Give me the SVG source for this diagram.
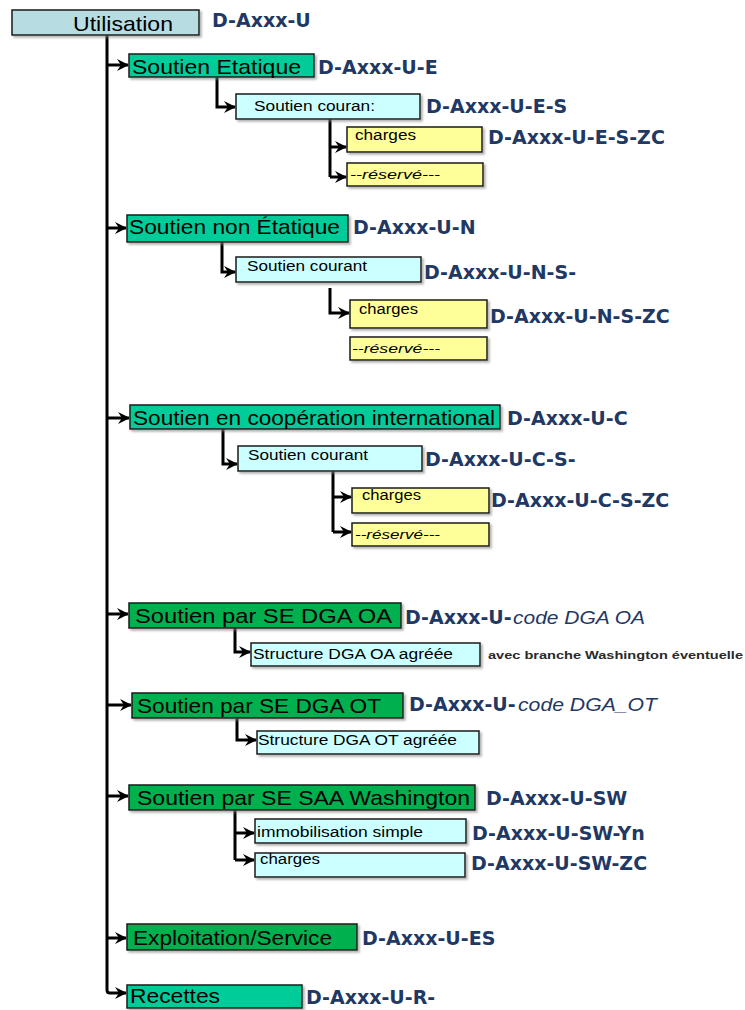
<svg xmlns="http://www.w3.org/2000/svg" width="745" height="1010" viewBox="0 0 745 1010">
<style>
.bx{stroke:#1a1a1a;stroke-width:1.5;filter:url(#sh)}
.teal{fill:#00cc99}
.grn{fill:#00b050}
.cyan{fill:#ccffff}
.yel{fill:#ffff99}
.util{fill:#b7dde3}
.t{font-family:"Liberation Sans",Arial,sans-serif;fill:#000}
.big{font-size:21px}
.sm{font-size:14px}
.it{font-size:12px;font-style:italic}
.lb{font-family:"DejaVu Sans",Verdana,sans-serif;font-weight:bold;font-size:19px;fill:#1f3864}
.lbi{font-family:"Liberation Sans",Arial,sans-serif;font-weight:normal;font-style:italic;font-size:18px;fill:#1f3864}
.note{font-family:"Liberation Sans",Arial,sans-serif;font-weight:bold;font-size:11.5px;fill:#2a2a2a}
.ln{fill:none;stroke:#000;stroke-width:3}
.ar{fill:none;stroke:#000;stroke-width:3;marker-end:url(#ah)}
</style>
<defs>
<filter id="sh" x="-5%" y="-20%" width="110%" height="150%">
<feDropShadow dx="2" dy="2" stdDeviation="0.8" flood-color="#808080" flood-opacity="0.6"/>
</filter>
<marker id="ah" markerUnits="userSpaceOnUse" markerWidth="14" markerHeight="14" refX="11" refY="6" orient="auto">
<path d="M0,0 L12,6 L0,12 L4,6 z" fill="#000"/>
</marker>
</defs>
<rect width="745" height="1010" fill="#fff"/>

<g id="connectors">
<path class="ln" d="M107,35 V990 Q107,993 110,993"/>
<path class="ar" d="M107,65 H128"/>
<path class="ar" d="M107,228 H126"/>
<path class="ar" d="M107,418 H129"/>
<path class="ar" d="M107,614 H128"/>
<path class="ar" d="M107,705 H131"/>
<path class="ar" d="M107,796 H128"/>
<path class="ar" d="M107,938 H126"/>
<path class="ar" d="M110,993 H126"/>

<path class="ar" d="M217,77 V107 H235"/>
<path class="ln" d="M330,119 V177"/>
<path class="ar" d="M330,147 H346"/>
<path class="ar" d="M330,177 H346"/>

<path class="ar" d="M222,242 V272 H235"/>
<path class="ar" d="M330,288 V313 H349"/>

<path class="ar" d="M223,429 V464 H237"/>
<path class="ln" d="M333,471 V532"/>
<path class="ar" d="M333,497 H351"/>
<path class="ar" d="M333,532 H351"/>

<path class="ar" d="M235,628 V652 H250"/>
<path class="ar" d="M237,718 V740 H256"/>

<path class="ln" d="M235,810 V860"/>
<path class="ar" d="M235,833 H254"/>
<path class="ar" d="M235,860 H254"/>
</g>

<g id="n-utilisation">
<rect class="bx util" x="12" y="10" width="187" height="25"/>
<text class="t big" x="73" y="31" textLength="100" lengthAdjust="spacingAndGlyphs">Utilisation</text>
<text class="lb" x="212" y="27">D-Axxx-U</text>
</g>

<g id="n-etatique">
<rect class="bx teal" x="129" y="54" width="185" height="23"/>
<text class="t big" x="132" y="74" textLength="169" lengthAdjust="spacingAndGlyphs">Soutien Etatique</text>
<text class="lb" x="318" y="74">D-Axxx-U-E</text>
</g>
<g id="n-e-courant">
<rect class="bx cyan" x="236" y="94" width="184" height="25"/>
<text class="t sm" x="254" y="111" textLength="121" lengthAdjust="spacingAndGlyphs">Soutien couran:</text>
<text class="lb" x="426" y="113">D-Axxx-U-E-S</text>
</g>
<g id="n-e-charges">
<rect class="bx yel" x="347" y="127" width="135" height="25"/>
<text class="t sm" x="355" y="140" textLength="61" lengthAdjust="spacingAndGlyphs">charges</text>
<text class="lb" x="488" y="144">D-Axxx-U-E-S-ZC</text>
</g>
<g id="n-e-reserve">
<rect class="bx yel" x="347" y="163" width="136" height="23"/>
<text class="t it" x="350" y="179" textLength="90" lengthAdjust="spacingAndGlyphs">--réservé---</text>
</g>

<g id="n-non-etatique">
<rect class="bx teal" x="127" y="215" width="221" height="27"/>
<text class="t big" x="129" y="234" textLength="211" lengthAdjust="spacingAndGlyphs">Soutien non Étatique</text>
<text class="lb" x="353" y="234">D-Axxx-U-N</text>
</g>
<g id="n-n-courant">
<rect class="bx cyan" x="236" y="257" width="185" height="25"/>
<text class="t sm" x="247" y="271" textLength="120" lengthAdjust="spacingAndGlyphs">Soutien courant</text>
<text class="lb" x="424" y="279">D-Axxx-U-N-S-</text>
</g>
<g id="n-n-charges">
<rect class="bx yel" x="350" y="300" width="137" height="28"/>
<text class="t sm" x="359" y="314" textLength="59" lengthAdjust="spacingAndGlyphs">charges</text>
<text class="lb" x="490" y="323">D-Axxx-U-N-S-ZC</text>
</g>
<g id="n-n-reserve">
<rect class="bx yel" x="350" y="337" width="137" height="23"/>
<text class="t it" x="352" y="353" textLength="88" lengthAdjust="spacingAndGlyphs">--réservé---</text>
</g>

<g id="n-coop">
<rect class="bx teal" x="130" y="405" width="370" height="24"/>
<text class="t big" x="133" y="425" textLength="362" lengthAdjust="spacingAndGlyphs">Soutien en coopération international</text>
<text class="lb" x="507" y="425">D-Axxx-U-C</text>
</g>
<g id="n-c-courant">
<rect class="bx cyan" x="238" y="446" width="184" height="25"/>
<text class="t sm" x="248" y="460" textLength="120" lengthAdjust="spacingAndGlyphs">Soutien courant</text>
<text class="lb" x="425" y="466">D-Axxx-U-C-S-</text>
</g>
<g id="n-c-charges">
<rect class="bx yel" x="352" y="488" width="137" height="25"/>
<text class="t sm" x="362" y="500" textLength="59" lengthAdjust="spacingAndGlyphs">charges</text>
<text class="lb" x="491" y="507">D-Axxx-U-C-S-ZC</text>
</g>
<g id="n-c-reserve">
<rect class="bx yel" x="352" y="523" width="137" height="23"/>
<text class="t it" x="355" y="539" textLength="85" lengthAdjust="spacingAndGlyphs">--réservé---</text>
</g>

<g id="n-dga-oa">
<rect class="bx grn" x="129" y="603" width="272" height="25"/>
<text class="t big" x="135" y="623" textLength="257" lengthAdjust="spacingAndGlyphs">Soutien par SE DGA OA</text>
<text class="lb" x="405" y="624">D-Axxx-U-</text>
<text class="lbi" x="513" y="624" textLength="132" lengthAdjust="spacingAndGlyphs">code DGA OA</text>
</g>
<g id="n-oa-structure">
<rect class="bx cyan" x="251" y="643" width="229" height="23"/>
<text class="t sm" x="253" y="659" textLength="200" lengthAdjust="spacingAndGlyphs">Structure DGA OA agréée</text>
<text class="note" x="488" y="659" textLength="255" lengthAdjust="spacingAndGlyphs">avec branche Washington éventuelle</text>
</g>

<g id="n-dga-ot">
<rect class="bx grn" x="132" y="693" width="271" height="25"/>
<text class="t big" x="137" y="713" textLength="244" lengthAdjust="spacingAndGlyphs">Soutien par SE DGA OT</text>
<text class="lb" x="409" y="711">D-Axxx-U-</text>
<text class="lbi" x="518" y="711" textLength="139" lengthAdjust="spacingAndGlyphs">code DGA_OT</text>
</g>
<g id="n-ot-structure">
<rect class="bx cyan" x="257" y="731" width="222" height="23"/>
<text class="t sm" x="258" y="745" textLength="199" lengthAdjust="spacingAndGlyphs">Structure DGA OT agréée</text>
</g>

<g id="n-saa">
<rect class="bx grn" x="129" y="785" width="346" height="25"/>
<text class="t big" x="137" y="805" textLength="333" lengthAdjust="spacingAndGlyphs">Soutien par SE SAA Washington</text>
<text class="lb" x="486" y="805">D-Axxx-U-SW</text>
</g>
<g id="n-sw-immo">
<rect class="bx cyan" x="255" y="819" width="211" height="24"/>
<text class="t sm" x="257" y="837" textLength="166" lengthAdjust="spacingAndGlyphs">immobilisation simple</text>
<text class="lb" x="472" y="840">D-Axxx-U-SW-Yn</text>
</g>
<g id="n-sw-charges">
<rect class="bx cyan" x="255" y="853" width="210" height="24"/>
<text class="t sm" x="260" y="864" textLength="60" lengthAdjust="spacingAndGlyphs">charges</text>
<text class="lb" x="471" y="870">D-Axxx-U-SW-ZC</text>
</g>

<g id="n-exploitation">
<rect class="bx grn" x="127" y="924" width="230" height="26"/>
<text class="t big" x="133" y="945" textLength="199" lengthAdjust="spacingAndGlyphs">Exploitation/Service</text>
<text class="lb" x="362" y="945">D-Axxx-U-ES</text>
</g>

<g id="n-recettes">
<rect class="bx teal" x="127" y="985" width="175" height="23"/>
<text class="t big" x="130" y="1003" textLength="90" lengthAdjust="spacingAndGlyphs">Recettes</text>
<text class="lb" x="306" y="1004">D-Axxx-U-R-</text>
</g>
</svg>
